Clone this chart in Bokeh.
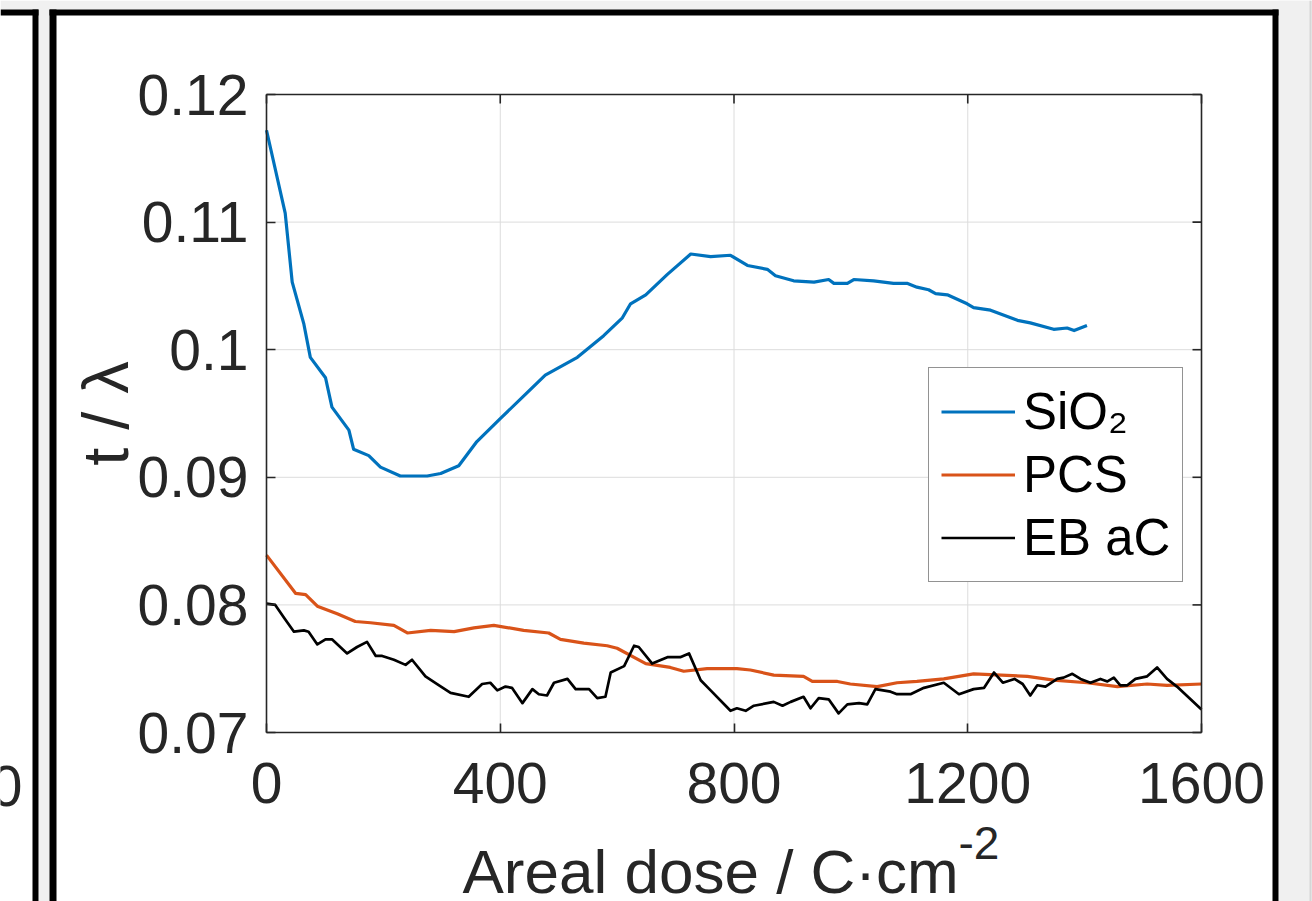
import math
from bokeh.plotting import figure
from bokeh.embed import file_html
from bokeh.resources import INLINE
from bokeh.models import (Range1d, LinearAxis, FixedTicker, NumeralTickFormatter,
                          Legend, LegendItem, Label, BoxAnnotation)

# ---------------- data ----------------
x_ticks = [0, 400, 800, 1200, 1600]
y_ticks = [0.07, 0.08, 0.09, 0.10, 0.11, 0.12]

sio2_x = [0, 32, 44, 64, 75, 101, 112, 141, 149, 175,
          195, 229, 275, 298, 329, 360, 400, 443, 477, 532,
          577, 609, 623, 649, 686, 726, 760, 794, 823, 857,
          871, 902, 937, 962, 971, 994, 1005, 1039, 1073, 1096,
          1113, 1133, 1145, 1165, 1199, 1210, 1239, 1285, 1307, 1347,
          1370, 1382, 1404]
sio2_y = [0.1172, 0.1107, 0.1053, 0.1020, 0.0994, 0.0978, 0.0955, 0.0937, 0.0922, 0.0917,
          0.0908, 0.0901, 0.0901, 0.0903, 0.0909, 0.0928, 0.0946, 0.0965, 0.0980, 0.0994,
          0.1011, 0.1025, 0.1036, 0.1043, 0.1059, 0.1075, 0.1073, 0.1074, 0.1066, 0.1063,
          0.1058, 0.1054, 0.1053, 0.1055, 0.1052, 0.1052, 0.1055, 0.1054, 0.1052, 0.1052,
          0.1049, 0.1047, 0.1044, 0.1043, 0.1036, 0.1033, 0.1031, 0.1023, 0.1021, 0.1016,
          0.1017, 0.1015, 0.1019]

pcs_x = [0, 50, 67, 87, 121, 152, 178, 218, 241, 281,
         321, 355, 389, 440, 483, 503, 543, 583, 600, 649,
         691, 714, 754, 805, 828, 868, 919, 934, 977, 999,
         1045, 1079, 1113, 1159, 1210, 1302, 1347, 1404, 1456, 1507,
         1541, 1600]
pcs_y = [0.0839, 0.0809, 0.0808, 0.0799, 0.0793, 0.0787, 0.0786, 0.0784, 0.0778, 0.0780,
         0.0779, 0.0782, 0.0784, 0.0780, 0.0778, 0.0773, 0.0770, 0.0768, 0.0766, 0.0754,
         0.0751, 0.0748, 0.0750, 0.0750, 0.0749, 0.0745, 0.0744, 0.0740, 0.0740, 0.0738,
         0.0736, 0.0739, 0.0740, 0.0742, 0.0746, 0.0744, 0.0741, 0.0739, 0.0736, 0.0738,
         0.0737, 0.0738]

ebac_x = [0, 15, 30, 47, 64, 72, 87, 101, 112, 138,
          155, 172, 187, 198, 218, 238, 249, 272, 292, 315,
          346, 369, 383, 395, 409, 420, 438, 455, 466, 480,
          492, 515, 529, 552, 566, 580, 589, 612, 629, 637,
          660, 686, 708, 723, 743, 760, 794, 805, 820, 834,
          868, 883, 897, 919, 931, 945, 962, 979, 994, 1014,
          1028, 1042, 1068, 1079, 1102, 1125, 1159, 1185, 1210, 1228,
          1245, 1260, 1280, 1294, 1307, 1319, 1333, 1353, 1364, 1379,
          1393, 1410, 1427, 1439, 1450, 1461, 1473, 1487, 1507, 1524,
          1541, 1558, 1600]
ebac_y = [0.0801, 0.0800, 0.0790, 0.0779, 0.0780, 0.0779, 0.0769, 0.0773, 0.0773, 0.0762,
          0.0767, 0.0771, 0.0760, 0.0760, 0.0757, 0.0753, 0.0757, 0.0744, 0.0738, 0.0731,
          0.0728, 0.0738, 0.0739, 0.0733, 0.0736, 0.0735, 0.0723, 0.0734, 0.0730, 0.0729,
          0.0739, 0.0742, 0.0734, 0.0734, 0.0727, 0.0728, 0.0747, 0.0752, 0.0768, 0.0767,
          0.0754, 0.0759, 0.0759, 0.0762, 0.0741, 0.0733, 0.0717, 0.0719, 0.0717, 0.0721,
          0.0724, 0.0721, 0.0724, 0.0728, 0.0719, 0.0727, 0.0726, 0.0715, 0.0722, 0.0723,
          0.0722, 0.0734, 0.0732, 0.0730, 0.0730, 0.0735, 0.0739, 0.0730, 0.0734, 0.0735,
          0.0747, 0.0739, 0.0742, 0.0738, 0.0729, 0.0737, 0.0736, 0.0742, 0.0743, 0.0746,
          0.0742, 0.0739, 0.0742, 0.0740, 0.0743, 0.0737, 0.0737, 0.0742, 0.0744, 0.0751,
          0.0742, 0.0736, 0.0718]

series_labels = ["SiO₂", "PCS", "EB aC"]
series_colors = ["#0072BD", "#D95319", "#000000"]

# ---------------- layout constants (pixels) ----------------
W, H = 1312, 901
L, R, T, B = 266, 1201, 94, 732          # axes box on the canvas
FONT = "Liberation Sans"
AX = "#262626"
GRID = "#dcdcdc"
TICK_PX = "57px"
TICK_LEN = 9

X0, X1 = x_ticks[0], x_ticks[-1]
Y0, Y1 = y_ticks[0], y_ticks[-1]
kx = (R - L) / (X1 - X0)
ky = (B - T) / (Y1 - Y0)

p = figure(width=W, height=H,
           x_range=Range1d(X0 - L / kx, X1 + (W - R) / kx),
           y_range=Range1d(Y0 - (H - B) / ky, Y1 + T / ky),
           output_backend="svg", toolbar_location=None,
           x_axis_type=None, y_axis_type=None, min_border=0,
           border_fill_color="white", background_fill_color="white",
           outline_line_color=None)
p.grid.visible = False

# window / panel decoration, canvas pixels (top-left origin) -> screen units
def box(l, r, t, b, color):
    p.add_layout(BoxAnnotation(left=l, right=r, top=H - t, bottom=H - b,
                               left_units="screen", right_units="screen",
                               top_units="screen", bottom_units="screen",
                               fill_color=color, fill_alpha=1.0, line_color=None,
                               level="underlay", editable=False))

box(0, W, 0, 9, "#f0f0f0")
box(38, 49, 0, H, "#f0f0f0")
box(1278, W, 0, H, "#f0f0f0")
box(1309, 1311, 0, H, "#d6d6d6")
box(0, 38, 9, 15, "#000000")
box(32, 38, 9, H, "#000000")
box(49, 1278, 9, 15, "#000000")
box(49, 56, 9, H, "#000000")
box(1272, 1278, 9, H, "#000000")

# grid lines at the ticks
p.segment(x0=x_ticks, y0=[Y0] * len(x_ticks), x1=x_ticks, y1=[Y1] * len(x_ticks),
          line_color=GRID, line_width=1)
p.segment(x0=[X0] * len(y_ticks), y0=y_ticks, x1=[X1] * len(y_ticks), y1=y_ticks,
          line_color=GRID, line_width=1)

# data lines
r1 = p.line(sio2_x, sio2_y, line_color=series_colors[0], line_width=3.2, line_join="round")
r2 = p.line(pcs_x, pcs_y, line_color=series_colors[1], line_width=3.2, line_join="round")
r3 = p.line(ebac_x, ebac_y, line_color=series_colors[2], line_width=2.7, line_join="round")

# axes (bottom / left) placed on the box edges
def style_axis(ax, ticks):
    ax.ticker = FixedTicker(ticks=ticks)
    ax.axis_line_color = AX
    ax.axis_line_width = 1.6
    ax.major_tick_line_color = AX
    ax.major_tick_line_width = 1.6
    ax.major_tick_in = TICK_LEN
    ax.major_tick_out = 0
    ax.minor_tick_line_color = None
    ax.major_label_text_font = FONT
    ax.major_label_text_color = AX
    ax.major_label_text_font_size = TICK_PX

xax = LinearAxis(fixed_location=Y0, bounds=(X0, X1))
style_axis(xax, x_ticks)
xax.major_label_standoff = 30
p.add_layout(xax, "below")

yax = LinearAxis(fixed_location=X0, bounds=(Y0, Y1),
                 formatter=NumeralTickFormatter(format="0.[00]"))
style_axis(yax, y_ticks)
yax.major_label_standoff = 18
p.add_layout(yax, "left")

# top / right box edges with inward ticks
p.segment(x0=[X0, X1], y0=[Y1, Y0], x1=[X1, X1], y1=[Y1, Y1], line_color=AX, line_width=1.6)
p.segment(x0=x_ticks, y0=[Y1] * len(x_ticks), x1=x_ticks,
          y1=[Y1 - TICK_LEN / ky] * len(x_ticks), line_color=AX, line_width=1.6)
p.segment(x0=[X1] * len(y_ticks), y0=y_ticks, x1=[X1 - TICK_LEN / kx] * len(y_ticks),
          y1=y_ticks, line_color=AX, line_width=1.6)

# legend
legend = Legend(items=[LegendItem(label=series_labels[0], renderers=[r1]),
                       LegendItem(label=series_labels[1], renderers=[r2]),
                       LegendItem(label=series_labels[2], renderers=[r3])],
                location=(928, H - 582), margin=0, padding=12, spacing=0,
                glyph_width=74, glyph_height=63, label_height=63, label_standoff=8,
                label_text_font=FONT, label_text_font_size="51px", label_text_color="#000000",
                border_line_color=AX, border_line_width=1.5,
                background_fill_color="white", background_fill_alpha=1.0)
p.add_layout(legend)

# text placed by its vertical middle (canvas pixels, top-left origin)
def label(text, xc, yc, size, align="left", angle=0.0, color=AX):
    p.add_layout(Label(x=xc, y=H - yc, x_units="screen", y_units="screen", text=text,
                       text_font=FONT, text_font_size=size, text_color=color,
                       text_align=align, text_baseline="middle", angle=angle))

# axis titles
label("t / λ", 105, 413, "65px", align="center", angle=math.pi / 2)
label("Areal dose / C·cm", 462, 871, "62px")
label("-2", 958, 842, "46px")

# clipped tick label of the neighbouring panel
label("0", 22, 785, TICK_PX, align="right")

open("out.html", "w").write(file_html(p, INLINE))
